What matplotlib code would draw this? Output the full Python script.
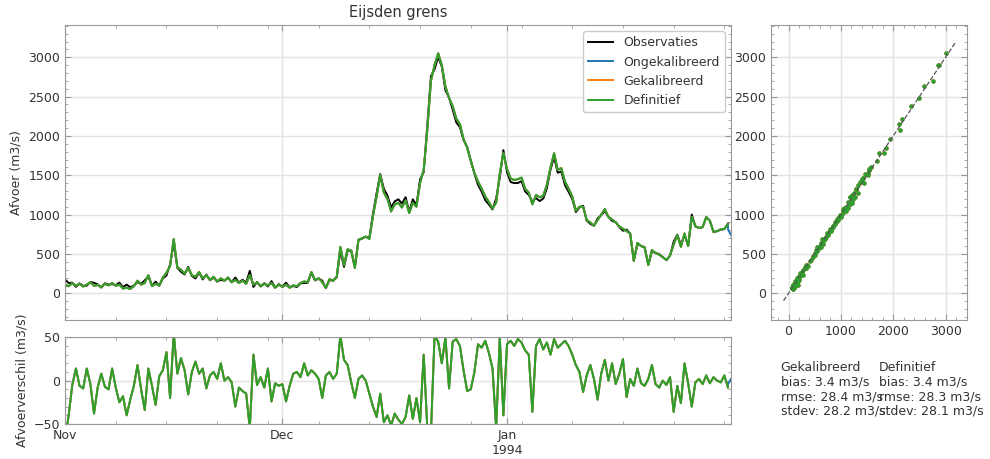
import numpy as np
import pandas as pd
import matplotlib
matplotlib.use("Agg")
import matplotlib.pyplot as plt
import matplotlib.dates as mdates
from matplotlib.ticker import AutoMinorLocator, FuncFormatter

# afvoer Definitief (m3/s), elke 12 uur vanaf 1 nov 1993
definitief = [
    105, 90, 130, 95, 120, 85, 110, 140, 95, 105,
    80, 120, 100, 130, 95, 110, 60, 70, 55, 90,
    160, 110, 130, 230, 90, 120, 100, 200, 260, 350,
    690, 330, 300, 250, 320, 230, 210, 270, 190, 230,
    170, 210, 150, 190, 160, 200, 140, 170, 130, 160,
    120, 230, 110, 140, 90, 120, 100, 130, 70, 110,
    80, 110, 70, 100, 90, 130, 150, 140, 270, 170,
    190, 140, 70, 180, 160, 210, 590, 360, 560, 540,
    320, 680, 700, 720, 690, 980, 1230, 1500, 1280, 1200,
    1040, 1130, 1150, 1090, 1180, 1020, 1150, 1100, 1400, 1570,
    2080, 2700, 2900, 3050, 2900, 2630, 2480, 2380, 2220, 2150,
    1960, 1850, 1680, 1530, 1420, 1330, 1230, 1160, 1080, 1150,
    1520, 1780, 1580, 1460, 1440, 1450, 1470, 1330, 1280, 1130,
    1250, 1220, 1240, 1380, 1600, 1780, 1570, 1590, 1420, 1330,
    1230, 1050, 1100, 1100, 930, 900, 860, 930, 1000, 1070,
    970, 940, 900, 850, 820, 790, 760, 410, 640, 600,
    580, 360, 550, 510, 490, 460, 420, 480, 620, 740,
    590, 760, 600, 970, 850, 830, 840, 970, 920, 780,
    790, 810, 820, 880,
]

# afvoerverschil Definitief - Observaties (m3/s)
verschil = [
    -70, -40, -5, 14, -6, -9, 14, -4, -38, -8,
    8, -7, -10, 14, -8, -25, -18, -40, -22, -6,
    18, -10, -34, 14, -6, -28, 5, 12, 33, -20,
    55, 8, 26, 12, -16, 10, 22, 8, 14, -9,
    6, 10, 2, 20, 0, 4, -2, -30, -8, -12,
    -15, -55, 30, -5, 4, -8, 14, -24, -3, -6,
    -4, -24, -6, 8, 10, 4, 20, 6, 12, 8,
    2, -20, 6, 10, 2, 8, 52, 24, 18, -2,
    -20, 2, 6, 0, -15, -30, -42, -15, -48, -40,
    -52, -38, -45, -50, -42, -17, -44, -20, -48, 30,
    -55, -60, 52, 45, 20, 50, -9, 45, 48, 40,
    12, -12, -10, 10, 42, 38, 46, 32, 14, -55,
    50, -40, 42, 46, 40, 48, 44, 35, 30, -36,
    40, 48, 36, 44, 30, 48, 38, 42, 46, 40,
    30, 18, 10, -13, 6, 18, 2, -22, 8, 24,
    0, 20, -4, 8, 25, -19, 2, -6, 14, -3,
    -6, 2, 18, -4, -8, 0, -5, 4, -36, -6,
    -26, 20, -3, -30, -2, 2, -4, 6, -3, 4,
    0, -2, 6, -8,
]

# Ongekalibreerd: alleen het laatste stukje is zichtbaar (uren na 1 nov)
ong_uren = [2196, 2206]
ong_afvoer = [810, 740]
ong_verschil = [-4, 2]

stats_gek = "Gekalibreerd\nbias: 3.4 m3/s\nrmse: 28.4 m3/s\nstdev: 28.2 m3/s"
stats_def = "Definitief\nbias: 3.4 m3/s\nrmse: 28.3 m3/s\nstdev: 28.1 m3/s"

start = pd.Timestamp("1993-11-01")
definitief = np.array(definitief, dtype=float)
verschil = np.array(verschil, dtype=float)
observaties = definitief - verschil
gekalibreerd = definitief.copy()
tijd = start + pd.to_timedelta(np.arange(len(definitief)) * 12, unit="h")
ong_tijd = start + pd.to_timedelta(ong_uren, unit="h")
ong_obs = np.array(ong_afvoer) - np.array(ong_verschil)

c_obs, c_ong, c_gek, c_def = "black", "#1f77b4", "#ff7f0e", "#2ca02c"
tekst = "#333333"
rand = "#999999"

plt.rcParams.update({
    "font.size": 9,
    "text.color": tekst,
    "axes.labelcolor": tekst,
    "xtick.color": rand,
    "ytick.color": rand,
    "xtick.labelcolor": tekst,
    "ytick.labelcolor": tekst,
    "axes.edgecolor": rand,
    "grid.color": "#e3e3e3",
    "grid.linewidth": 1.0,
})

fig = plt.figure(figsize=(9.9, 4.59), dpi=100)
ax1 = fig.add_axes([0.0657, 0.3028, 0.6727, 0.6427])
ax2 = fig.add_axes([0.0657, 0.0763, 0.6727, 0.1888], sharex=ax1)
ax3 = fig.add_axes([0.7785, 0.3028, 0.1983, 0.6427])

ylim = (-340, 3410)

# hoofdgrafiek
ax1.plot(tijd, observaties, color=c_obs, lw=1.4, label="Observaties")
ax1.plot(list(tijd) + list(ong_tijd), list(definitief) + ong_afvoer,
         color=c_ong, lw=1.4, label="Ongekalibreerd")
ax1.plot(tijd, gekalibreerd, color=c_gek, lw=1.4, label="Gekalibreerd")
ax1.plot(tijd, definitief, color=c_def, lw=1.4, label="Definitief")
ax1.set_ylim(ylim)
ax1.set_ylabel("Afvoer (m3/s)")
ax1.set_title("Eijsden grens", fontsize=10.5, color=tekst)
ax1.legend(loc="upper right", fontsize=9, framealpha=1, edgecolor="#cccccc")

# verschil
ax2.plot(list(tijd) + list(ong_tijd), list(verschil) + ong_verschil,
         color=c_ong, lw=1.4)
ax2.plot(tijd, gekalibreerd - observaties, color=c_gek, lw=1.4)
ax2.plot(tijd, verschil, color=c_def, lw=1.4)
ax2.set_ylim(-50, 50)
ax2.set_yticks([-50, 0, 50])
ax2.set_ylabel("Afvoerverschil (m3/s)")

ax1.set_xlim(tijd[0], ong_tijd[-1])


def maand_label(x, pos):
    d = mdates.num2date(x)
    if d.month == 1:
        return d.strftime("%b") + "\n" + str(d.year)
    return d.strftime("%b")


for ax in (ax1, ax2):
    ax.xaxis.set_major_locator(mdates.MonthLocator())
    ax.xaxis.set_minor_locator(mdates.WeekdayLocator(byweekday=mdates.MO))
    ax.xaxis.set_major_formatter(FuncFormatter(maand_label))
    ax.yaxis.set_minor_locator(AutoMinorLocator())
    ax.grid(True, which="major")
plt.setp(ax1.get_xticklabels(), visible=False)

# scatter
ax3.plot(np.append(observaties, ong_obs), np.append(definitief, ong_afvoer),
         "o", ms=3, color=c_ong, mew=0)
ax3.plot(observaties, gekalibreerd, "o", ms=3, color=c_gek, mew=0)
ax3.plot(observaties, definitief, "o", ms=3, color=c_def, mew=0)
lo = min(observaties.min(), definitief.min())
hi = max(observaties.max(), definitief.max())
marge = 0.05 * (hi - lo)
ax3.plot([lo - marge, hi + marge], [lo - marge, hi + marge], "--",
         color="#555555", lw=0.9)
ax3.set_xlim(ylim)
ax3.set_ylim(ylim)
ax3.set_xticks([0, 1000, 2000, 3000])
ax3.xaxis.set_minor_locator(AutoMinorLocator())
ax3.yaxis.set_minor_locator(AutoMinorLocator())
ax3.grid(True, which="major")

for ax in (ax1, ax2, ax3):
    ax.tick_params(which="both", direction="in", top=True, right=True)
    ax.tick_params(which="major", length=4, width=0.8)
    ax.tick_params(which="minor", length=2, width=0.6)
    ax.set_axisbelow(True)

fig.text(0.7886, 0.2135, stats_gek, va="top", ha="left", fontsize=9,
         color=tekst, linespacing=1.15)
fig.text(0.888, 0.2135, stats_def, va="top", ha="left", fontsize=9,
         color=tekst, linespacing=1.15)

fig.savefig("out.png", dpi=100)
